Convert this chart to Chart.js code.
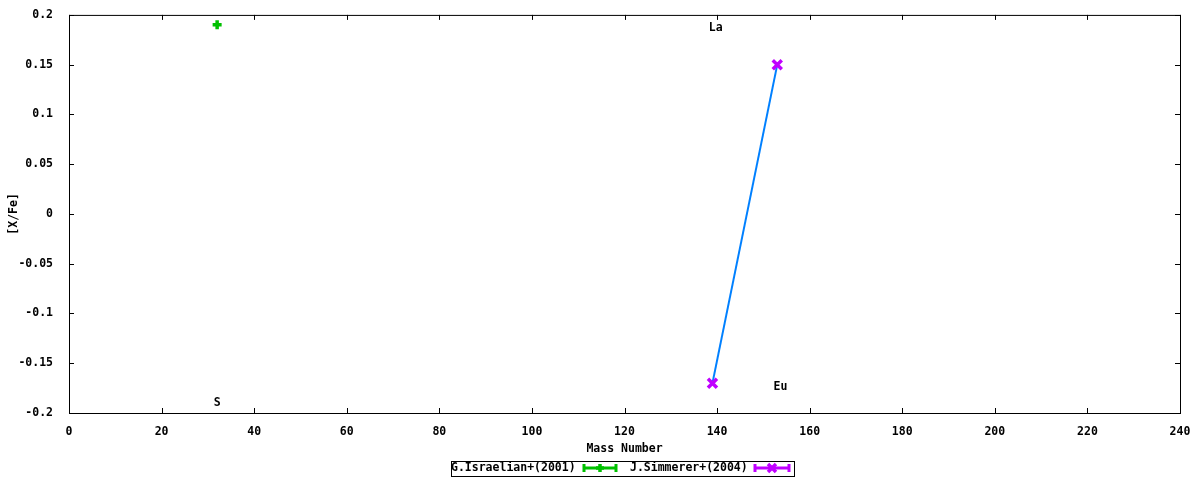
<!DOCTYPE html>
<html>
<head>
<meta charset="utf-8">
<script src="https://cdn.jsdelivr.net/npm/chart.js@4/dist/chart.umd.min.js"></script>
<style>
  html, body { margin: 0; padding: 0; background: #fff; }
  #wrap { width: 1200px; height: 480px; }
</style>
</head>
<body>
<div id="wrap"><canvas id="chart"></canvas></div>
<script>
const israelianMass = [32];
const israelianValue = [0.19];
const simmererMass = [139, 153];
const simmererValue = [-0.17, 0.15];

const elementNames = ['S', 'La', 'Eu'];
const elementX = [32, 139.7, 153.7];
const elementY = [-0.19, 0.187, -0.174];

const seriesNames = ['G.Israelian+(2001)', 'J.Simmerer+(2004)'];

const FONT = '"DejaVu Sans Mono", "Liberation Mono", monospace';
const green = '#00c000';
const magenta = '#c000ff';
const blue = '#0080ff';

const toPoints = (xs, ys) => xs.map((x, i) => ({ x, y: ys[i] }));

function fmt(v) {
  return String(parseFloat(v.toFixed(2)));
}

// marker used both in the plot and in the legend sample
function marker(ctx, kind, x, y, r, color) {
  ctx.save();
  ctx.strokeStyle = color;
  ctx.lineWidth = 3.5;
  ctx.beginPath();
  if (kind === 'plus') {
    ctx.moveTo(x - r, y); ctx.lineTo(x + r, y);
    ctx.moveTo(x, y - r); ctx.lineTo(x, y + r);
  } else {
    ctx.moveTo(x - r, y - r); ctx.lineTo(x + r, y + r);
    ctx.moveTo(x - r, y + r); ctx.lineTo(x + r, y - r);
  }
  ctx.stroke();
  ctx.restore();
}

const framePlugin = {
  id: 'frame',
  afterDraw(chart) {
    const { ctx, chartArea: a, scales } = chart;
    const xs = scales.x, ys = scales.y;
    ctx.save();
    ctx.strokeStyle = '#000';
    ctx.lineWidth = 1;
    ctx.strokeRect(a.left + 0.5, a.top + 0.5, a.right - a.left, a.bottom - a.top);

    // inward ticks on all four sides
    ctx.beginPath();
    xs.ticks.forEach(t => {
      const px = Math.round(xs.getPixelForValue(t.value)) + 0.5;
      ctx.moveTo(px, a.bottom); ctx.lineTo(px, a.bottom - 5);
      ctx.moveTo(px, a.top); ctx.lineTo(px, a.top + 5);
    });
    ys.ticks.forEach(t => {
      const py = Math.round(ys.getPixelForValue(t.value)) + 0.5;
      ctx.moveTo(a.left, py); ctx.lineTo(a.left + 5, py);
      ctx.moveTo(a.right, py); ctx.lineTo(a.right - 5, py);
    });
    ctx.stroke();

    // element labels
    ctx.fillStyle = '#000';
    ctx.font = 'bold 11.5px ' + FONT;
    ctx.textAlign = 'center';
    ctx.textBaseline = 'middle';
    elementNames.forEach((n, i) => {
      ctx.fillText(n, xs.getPixelForValue(elementX[i]), ys.getPixelForValue(elementY[i]));
    });

    // legend box
    const ly = 468;
    ctx.strokeRect(451.5, 461.5, 343, 15);
    ctx.textAlign = 'left';
    ctx.fillText(seriesNames[0], 451, ly);
    ctx.fillText(seriesNames[1], 630, ly);
    const samples = [[583, 617, green, 'plus'], [754, 790, magenta, 'cross']];
    samples.forEach(([x0, x1, c, k]) => {
      ctx.strokeStyle = c;
      ctx.lineWidth = 3;
      ctx.beginPath();
      ctx.moveTo(x0, ly); ctx.lineTo(x1, ly);
      ctx.moveTo(x0 + 1, ly - 4); ctx.lineTo(x0 + 1, ly + 4);
      ctx.moveTo(x1 - 1, ly - 4); ctx.lineTo(x1 - 1, ly + 4);
      ctx.stroke();
      marker(ctx, k, (x0 + x1) / 2, ly, 4, c);
    });
    ctx.restore();
  }
};

const markerPlugin = {
  id: 'markers',
  afterDatasetsDraw(chart) {
    const { ctx } = chart;
    const kinds = ['plus', 'cross'];
    const colors = [green, magenta];
    chart.data.datasets.forEach((ds, i) => {
      chart.getDatasetMeta(i).data.forEach(p => marker(ctx, kinds[i], p.x, p.y, 4.5, colors[i]));
    });
  }
};

new Chart(document.getElementById('chart'), {
  type: 'scatter',
  data: {
    datasets: [
      {
        label: seriesNames[0],
        data: toPoints(israelianMass, israelianValue),
        pointRadius: 0,
        showLine: false
      },
      {
        label: seriesNames[1],
        data: toPoints(simmererMass, simmererValue),
        borderColor: blue,
        borderWidth: 2,
        pointRadius: 0,
        showLine: true
      }
    ]
  },
  options: {
    responsive: true,
    maintainAspectRatio: false,
    animation: false,
    layout: { padding: { top: 12, right: 20, bottom: 24, left: 0 } },
    plugins: {
      legend: { display: false },
      tooltip: { enabled: false }
    },
    scales: {
      x: {
        type: 'linear',
        min: 0,
        max: 240,
        grid: { display: false },
        border: { display: false },
        ticks: {
          stepSize: 20,
          padding: 4,
          color: '#000',
          font: { family: FONT, size: 11.5, weight: 'bold' },
          maxRotation: 0
        },
        title: {
          display: true,
          text: 'Mass Number',
          color: '#000',
          padding: { top: 7, bottom: 0 },
          font: { family: FONT, size: 11.5, weight: 'bold' }
        },
        afterFit(s) { s.height = 43; }
      },
      y: {
        type: 'linear',
        min: -0.2,
        max: 0.2,
        grid: { display: false },
        border: { display: false },
        ticks: {
          stepSize: 0.05,
          padding: 8,
          color: '#000',
          font: { family: FONT, size: 11.5, weight: 'bold' },
          callback: v => fmt(v)
        },
        title: {
          display: true,
          text: '[X/Fe]',
          color: '#000',
          padding: { top: 7, bottom: 0 },
          font: { family: FONT, size: 11.5, weight: 'bold' }
        },
        afterFit(s) { s.width = 69; }
      }
    }
  },
  plugins: [markerPlugin, framePlugin]
});
</script>
</body>
</html>
